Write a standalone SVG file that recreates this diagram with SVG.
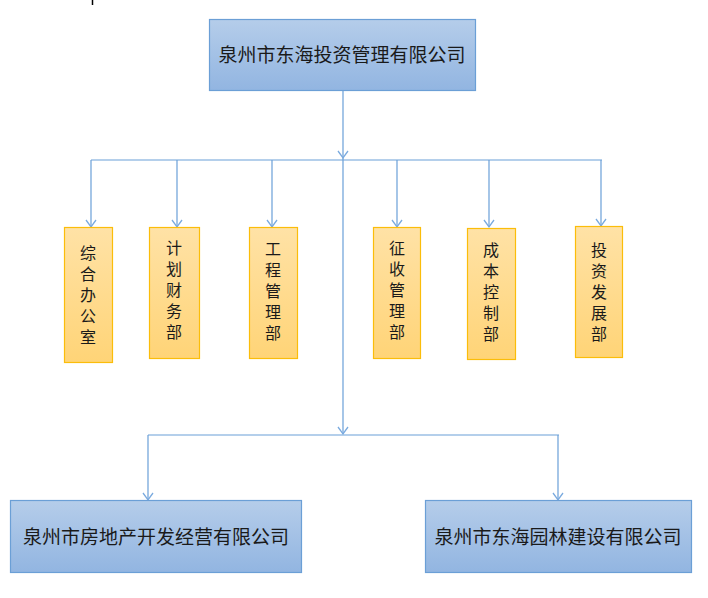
<svg xmlns="http://www.w3.org/2000/svg" width="708" height="598" viewBox="0 0 708 598">
<defs>
<linearGradient id="gb" x1="0" y1="0" x2="0" y2="1"><stop offset="0" stop-color="#b5cdea"/><stop offset="1" stop-color="#92b5e1"/></linearGradient>
<linearGradient id="go" x1="0" y1="0" x2="0" y2="1"><stop offset="0" stop-color="#ffe2a6"/><stop offset="1" stop-color="#ffd477"/></linearGradient>
<marker id="ar" markerWidth="12" markerHeight="12" refX="10" refY="6" orient="auto" markerUnits="userSpaceOnUse" viewBox="0 0 12 12">
<path d="M3,1 L10,6 L3,11" fill="none" stroke="#7aaadf" stroke-width="1.3"/>
</marker>
<style>
.b{fill:url(#gb);stroke:#6b9fd6;stroke-width:1.2}
.o{fill:url(#go);stroke:#fbbd0a;stroke-width:1.2}
.t{font-family:"Noto Sans CJK SC","Noto Sans CJK JP",sans-serif;font-size:19px;fill:#1a1a1a;text-anchor:middle}
.v{font-family:"Noto Sans CJK SC","Noto Sans CJK JP",sans-serif;font-size:16px;fill:#1a1a1a;writing-mode:vertical-rl;text-orientation:upright;letter-spacing:5px}
.c{fill:none;stroke:#6a9fd8;stroke-width:1.2}
</style>
</defs>
<rect width="708" height="598" fill="#ffffff"/>
<line x1="92.5" y1="0" x2="92.5" y2="5" stroke="#000" stroke-width="1.5"/>
<g id="connectors">
<path class="c" d="M343,90 V158" marker-end="url(#ar)"/>
<path class="c" d="M91,160 H602"/>
<path class="c" d="M91,160 V227" marker-end="url(#ar)"/>
<path class="c" d="M177,160 V227" marker-end="url(#ar)"/>
<path class="c" d="M272,160 V227" marker-end="url(#ar)"/>
<path class="c" d="M397,160 V227" marker-end="url(#ar)"/>
<path class="c" d="M489,160 V227" marker-end="url(#ar)"/>
<path class="c" d="M601,160 V226" marker-end="url(#ar)"/>
<path class="c" d="M343,158 V434" marker-end="url(#ar)"/>
<path class="c" d="M148,435 H559"/>
<path class="c" d="M148,435 V500" marker-end="url(#ar)"/>
<path class="c" d="M558,435 V500" marker-end="url(#ar)"/>
</g>
<g id="n0"><rect class="b" x="209.5" y="19.5" width="266" height="71"/><text class="t" x="342" y="62">泉州市东海投资管理有限公司</text></g>
<g id="n1"><rect class="o" x="64.5" y="227.5" width="48" height="135"/><text class="v" x="88" y="245">综合办公室</text></g>
<g id="n2"><rect class="o" x="149.5" y="227.5" width="50" height="131"/><text class="v" x="174" y="240">计划财务部</text></g>
<g id="n3"><rect class="o" x="249.5" y="227.5" width="48" height="131"/><text class="v" x="273" y="241">工程管理部</text></g>
<g id="n4"><rect class="o" x="373.5" y="227.5" width="47" height="131"/><text class="v" x="397" y="240">征收管理部</text></g>
<g id="n5"><rect class="o" x="467.5" y="228.5" width="48" height="131"/><text class="v" x="491" y="242">成本控制部</text></g>
<g id="n6"><rect class="o" x="575.5" y="226.5" width="47" height="131"/><text class="v" x="599" y="242">投资发展部</text></g>
<g id="n7"><rect class="b" x="10.5" y="500.5" width="291" height="72"/><text class="t" x="156" y="544">泉州市房地产开发经营有限公司</text></g>
<g id="n8"><rect class="b" x="425.5" y="500.5" width="266" height="72"/><text class="t" x="558" y="544">泉州市东海园林建设有限公司</text></g>
</svg>
